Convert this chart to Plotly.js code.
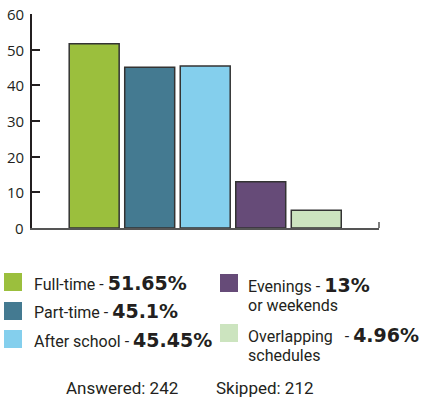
<!DOCTYPE html>
<html>
<head>
<meta charset="utf-8">
<script src="https://cdn.plot.ly/plotly-3.0.1.min.js"></script>
<style>html,body{margin:0;padding:0;background:#fff;} #chart{width:427px;height:402px;}</style>
</head>
<body>
<div id="chart"></div>
<script>
const categories = ["Full-time", "Part-time", "After school", "Evenings or weekends", "Overlapping schedules"];
const values = [51.65, 45.1, 45.45, 13, 4.96];
const valueLabels = ["51.65%", "45.1%", "45.45%", "13%", "4.96%"];
const colors = ["#9bbf3d", "#447a91", "#84cfed", "#664b78", "#cce4bf"];
const yTicks = [0, 10, 20, 30, 40, 50, 60];
const answered = 242;
const skipped = 212;

const W = 427, H = 402;
const L = 32, R = 48, T = 14, B = 174;
const pw = W - L - R, ph = H - T - B;
const px = x => (x - L) / pw;
const py = y => (H - B - y) / ph;

const narrow = "Roboto, 'DejaVu Sans Condensed', sans-serif";
const textCol = "#231f20";
const boldSpan = s => "<span style=\"font-family:DejaVu Sans;font-size:19px;font-weight:bold\">" + s + "</span>";

const xs = categories.map((c, i) => i);

const trace = {
  type: "bar",
  x: xs,
  y: values,
  width: 0.9,
  marker: { color: colors, line: { color: "#333333", width: 1.5 } },
  hoverinfo: "none"
};

const shapes = [];
const annotations = [];

// legend squares + labels
const legendPos = [
  { sx: 4, sy: 273, tx: 32, ty: 283 },
  { sx: 4, sy: 302, tx: 32, ty: 311 },
  { sx: 4, sy: 330, tx: 32, ty: 340 },
  { sx: 220, sy: 274, tx: 246, ty: 285 },
  { sx: 220, sy: 324, tx: 246, ty: 335 }
];
const legendText = [
  categories[0] + " - ",
  categories[1] + " - ",
  categories[2] + " - ",
  "Evenings - ",
  "Overlapping &nbsp;&nbsp;- "
];
const secondLine = [null, null, null, "or weekends", "schedules"];

legendPos.forEach((p, i) => {
  shapes.push({
    type: "rect", xref: "paper", yref: "paper",
    x0: px(p.sx), x1: px(p.sx + 18), y0: py(p.sy), y1: py(p.sy + 18),
    fillcolor: colors[i], line: { width: 0 }
  });
  annotations.push({
    xref: "paper", yref: "paper", x: px(p.tx), y: py(p.ty),
    xanchor: "left", yanchor: "middle", showarrow: false,
    text: legendText[i] + boldSpan(valueLabels[i]),
    font: { family: narrow, size: 16, color: textCol }
  });
  if (secondLine[i]) {
    annotations.push({
      xref: "paper", yref: "paper", x: px(p.tx), y: py(p.ty + 20),
      xanchor: "left", yanchor: "middle", showarrow: false,
      text: secondLine[i],
      font: { family: narrow, size: 16, color: textCol }
    });
  }
});

// y tick labels
yTicks.forEach(v => {
  annotations.push({
    xref: "paper", yref: "y", x: px(26), y: v,
    xanchor: "right", yanchor: "middle", showarrow: false,
    text: String(v),
    font: { family: "'Open Sans', sans-serif", size: 15, color: textCol }
  });
});

annotations.push({
  xref: "paper", yref: "paper", x: px(64), y: py(388),
  xanchor: "left", yanchor: "middle", showarrow: false,
  text: "Answered: " + answered,
  font: { family: narrow, size: 17, color: textCol }
});
annotations.push({
  xref: "paper", yref: "paper", x: px(214), y: py(388),
  xanchor: "left", yanchor: "middle", showarrow: false,
  text: "Skipped: " + skipped,
  font: { family: narrow, size: 17, color: textCol }
});

// right end tick of x axis
shapes.push({
  type: "line", xref: "paper", yref: "paper",
  x0: 1, x1: 1, y0: 0, y1: py(222),
  line: { color: "#555555", width: 1.5 }
});

const layout = {
  width: W, height: H,
  margin: { l: L, r: R, t: T, b: B, pad: 0 },
  paper_bgcolor: "#ffffff", plot_bgcolor: "#ffffff",
  showlegend: false,
  xaxis: {
    range: [-1.12, 5.13], showgrid: false, zeroline: false,
    showticklabels: false, ticks: "",
    showline: true, linecolor: "#555555", linewidth: 1.5, fixedrange: true
  },
  yaxis: {
    range: [0, 60], tickvals: yTicks, showticklabels: false,
    showgrid: false, zeroline: false,
    showline: true, linecolor: "#231f20", linewidth: 2,
    ticks: "inside", ticklen: 8, tickwidth: 2, tickcolor: "#231f20",
    fixedrange: true
  },
  shapes: shapes,
  annotations: annotations,
  bargap: 0.1
};

Plotly.newPlot("chart", [trace], layout, { displayModeBar: false, staticPlot: true });
</script>
</body>
</html>
